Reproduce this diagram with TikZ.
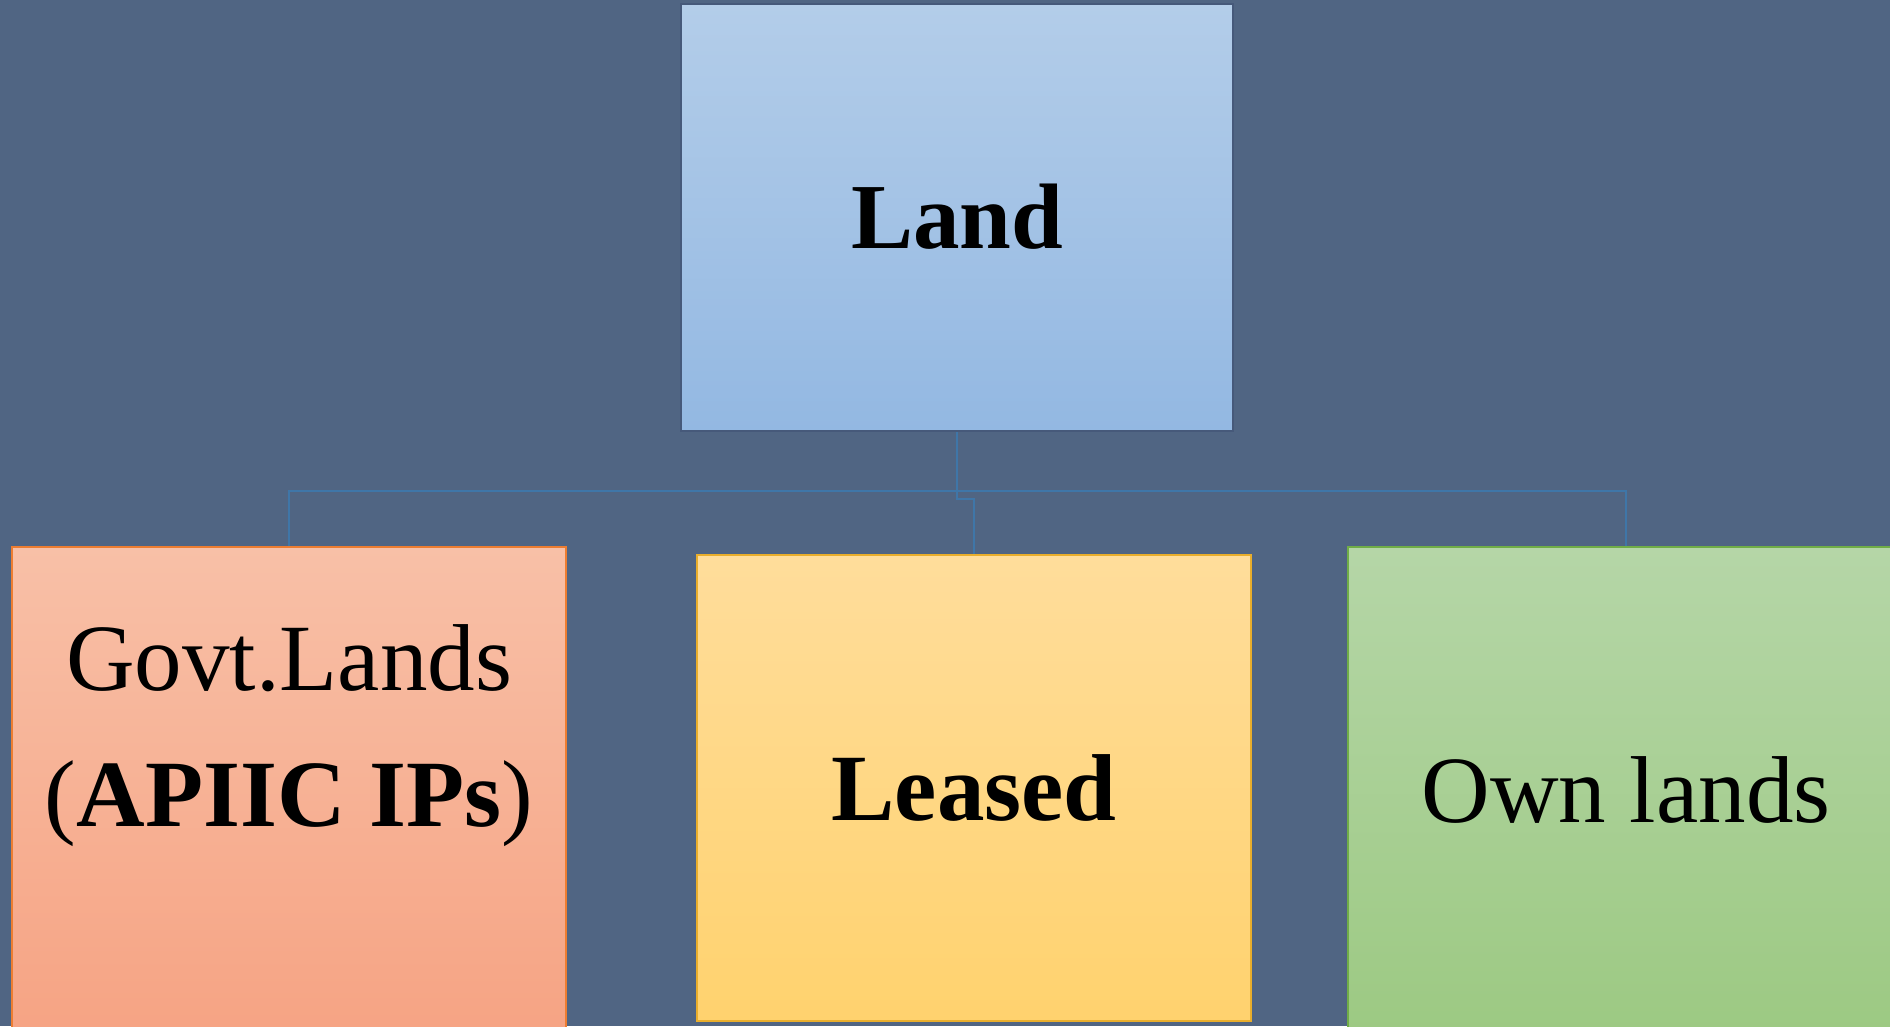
\documentclass[tikz,border=0pt]{standalone}
\usepackage{fontspec}
\setmainfont{Liberation Serif}
\definecolor{bg}{HTML}{506583}
\definecolor{conn}{HTML}{3F76A8}
\definecolor{landT}{HTML}{B3CDE9}
\definecolor{landB}{HTML}{93B8E2}
\definecolor{landD}{HTML}{46597A}
\definecolor{govT}{HTML}{F8C0A7}
\definecolor{govB}{HTML}{F6A383}
\definecolor{govD}{HTML}{ED7D31}
\definecolor{leaT}{HTML}{FFDD9B}
\definecolor{leaB}{HTML}{FFD26E}
\definecolor{leaD}{HTML}{E9AE2C}
\definecolor{ownT}{HTML}{B5D6A7}
\definecolor{ownB}{HTML}{9CC982}
\definecolor{ownD}{HTML}{70AD47}
\begin{document}
\begin{tikzpicture}[x=1pt,y=-1pt,
  box/.style={rectangle, inner sep=0pt, line width=2pt, align=center},
  bigtext/.style={font=\fontsize{95}{136}\selectfont},
  connector/.style={draw=conn, line width=2.2pt}]
\useasboundingbox (0,0) rectangle (1890,1026);
\clip (0,0) rectangle (1890,1026);
\fill[bg] (0,0) rectangle (1890,1026);

\node[box, minimum width=552pt, minimum height=427pt, draw=landD, top color=landT, bottom color=landB,
      font=\fontsize{93}{110}\selectfont\bfseries] (land) at (957,217.5) {\raisebox{2pt}{Land}};
\node[box, minimum width=554pt, minimum height=493pt, draw=govD, top color=govT, bottom color=govB] (govt) at (289,793.5) {};
\node[bigtext, align=center, inner sep=0pt] (govttext) at (289,736) {Govt.Lands\\(\textbf{APIIC IPs})};
\node[box, bigtext, minimum width=554pt, minimum height=466pt, draw=leaD, top color=leaT, bottom color=leaB] (leased) at (974,788) {\textbf{Leased}};
\node[box, bigtext, minimum width=556pt, minimum height=493pt, draw=ownD, top color=ownT, bottom color=ownB] (own) at (1626,793.5) {\raisebox{8pt}{Own lands}};

\draw[connector] (land.south) -- ++(0,59) -| (govt.north);
\draw[connector] (land.south) -- ++(0,59) -| (own.north);
\draw[connector] (land.south) -- ++(0,67) -| (leased.north);
\end{tikzpicture}
\end{document}
